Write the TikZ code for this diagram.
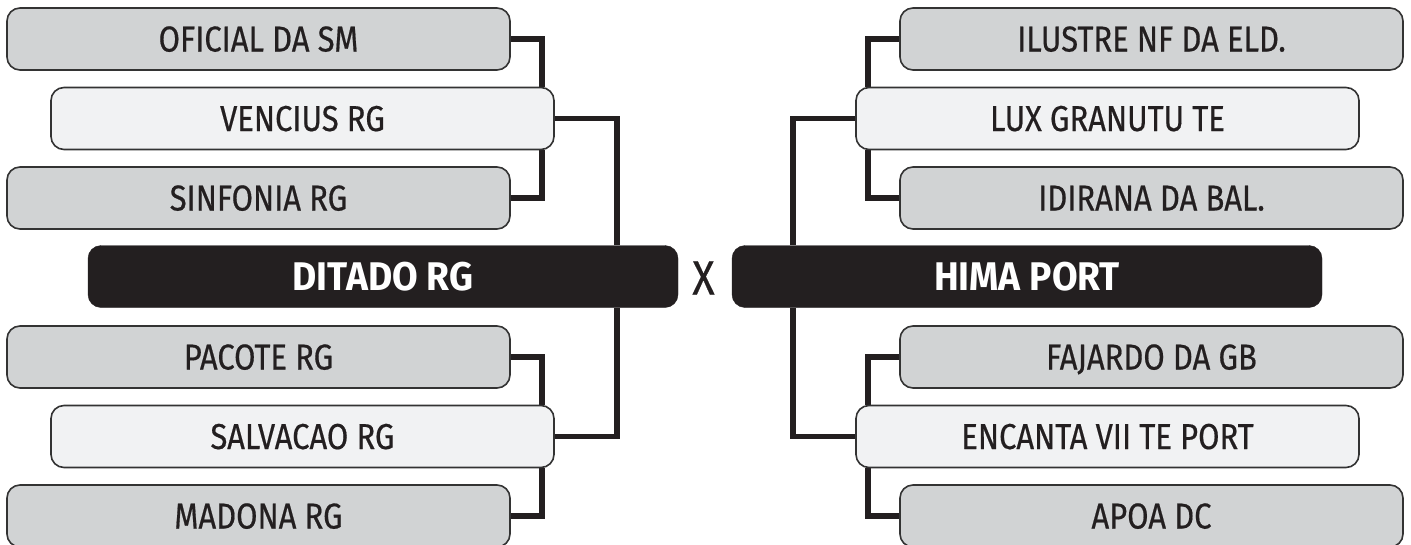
\documentclass[tikz,border=0pt]{standalone}
\usepackage{fontspec}
\setmainfont{Fira Sans}[FakeStretch=0.86, UprightFeatures={FakeBold=0.5}, BoldFeatures={FakeStretch=0.93}]
\definecolor{ink}{HTML}{231F20}
\definecolor{grayfill}{HTML}{D1D3D4}
\definecolor{lightfill}{HTML}{F1F2F3}
\definecolor{edge}{HTML}{333333}
\pgfdeclarelayer{bg}
\pgfsetlayers{bg,main}
\tikzset{
  basebox/.style={rectangle, rounded corners=13pt, minimum height=62pt, inner sep=0pt,
    text height=25pt, text depth=0pt, font=\fontsize{36}{36}\selectfont, text=ink},
  graybox/.style={basebox, minimum width=503pt, fill=grayfill, draw=edge, line width=1.6pt},
  lightbox/.style={basebox, minimum width=503pt, fill=lightfill, draw=edge, line width=1.6pt},
  teambox/.style={rectangle, rounded corners=13pt, minimum height=62pt, minimum width=590pt,
    inner sep=0pt, fill=ink, draw=ink, text=white, text height=28pt, text depth=0pt,
    font=\fontsize{40}{40}\selectfont\bfseries},
  conn/.style={draw=ink, line width=5.5pt, line join=miter}
}
\begin{document}
\begin{tikzpicture}[x=1pt,y=-1pt]
\useasboundingbox (0,0) rectangle (1411,544);
% left side
\node[graybox]  (ofi) at (258.5,39)    {OFICIAL DA SM};
\node[lightbox] (ven) at (302.5,118.5) {VENCIUS RG};
\node[graybox]  (sin) at (258.5,198)   {SINFONIA RG};
\node[teambox]  (dit) at (383,276.5)   {DITADO RG};
\node[graybox]  (pac) at (258.5,357)   {PACOTE RG};
\node[lightbox] (sal) at (302.5,436.5) {SALVACAO RG};
\node[graybox]  (mad) at (258.5,516)   {MADONA RG};
% vs
\node[text=ink, inner sep=0pt, text height=33pt, text depth=0pt,
      font=\fontsize{48}{48}\selectfont] (vs) at (703.5,278) {X};
% right side
\node[graybox]  (ilu) at (1151.5,39)    {ILUSTRE NF DA ELD.};
\node[lightbox] (lux) at (1107.5,118.5) {LUX GRANUTU TE};
\node[graybox]  (idi) at (1151.5,198)   {IDIRANA DA BAL.};
\node[teambox]  (him) at (1027,276.5)   {HIMA PORT};
\node[graybox]  (faj) at (1151.5,357)   {FAJARDO DA GB};
\node[lightbox] (enc) at (1107.5,436.5) {ENCANTA VII TE PORT};
\node[graybox]  (apo) at (1151.5,516)   {APOA DC};
% connectors
\begin{pgfonlayer}{bg}
\draw[conn] (ofi.east) -| ([xshift=-13pt]ven.north east);
\draw[conn] (sin.east) -| ([xshift=-13pt]ven.south east);
\draw[conn] (ven.east) -| ([xshift=-61pt]dit.north east);
\draw[conn] (sal.east) -| ([xshift=-61pt]dit.south east);
\draw[conn] (pac.east) -| ([xshift=-13pt]sal.north east);
\draw[conn] (mad.east) -| ([xshift=-13pt]sal.south east);
\draw[conn] (ilu.west) -| ([xshift=13pt]lux.north west);
\draw[conn] (idi.west) -| ([xshift=13pt]lux.south west);
\draw[conn] (lux.west) -| ([xshift=61pt]him.north west);
\draw[conn] (enc.west) -| ([xshift=61pt]him.south west);
\draw[conn] (faj.west) -| ([xshift=13pt]enc.north west);
\draw[conn] (apo.west) -| ([xshift=13pt]enc.south west);
\end{pgfonlayer}
\end{tikzpicture}
\end{document}
